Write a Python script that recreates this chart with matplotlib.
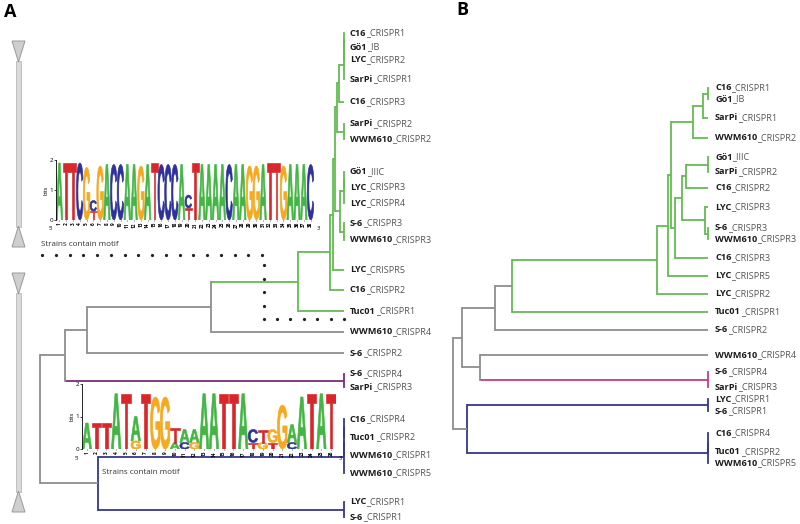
import numpy as np
import matplotlib
matplotlib.use('Agg')
import matplotlib.pyplot as plt
from matplotlib.textpath import TextPath
from matplotlib.patches import PathPatch, Polygon, Rectangle
from matplotlib.font_manager import FontProperties
from matplotlib.transforms import Affine2D

GREEN = '#63bb52'
GRAY = '#8e8e8e'
PURPLE = '#7b2b7a'
PINK = '#c33c83'
BLUE = '#35378f'
LOGO_COL = {'A': '#43b543', 'T': '#d8262a', 'G': '#f6a91f', 'C': '#2e3199'}

# ---- panel A leaves (strain, suffix, row) top to bottom
a_strain = ['C16', 'Gö1', 'LYC', 'SarPi', 'C16', 'SarPi', 'WWM610', 'Gö1', 'LYC', 'LYC',
            'S-6', 'WWM610', 'LYC', 'C16', 'Tuc01', 'WWM610', 'S-6', 'S-6', 'SarPi',
            'C16', 'Tuc01', 'WWM610', 'WWM610', 'LYC', 'S-6']
a_suffix = ['_CRISPR1', '_IB', '_CRISPR2', '_CRISPR1', '_CRISPR3', '_CRISPR2', '_CRISPR2',
            '_IIIC', '_CRISPR3', '_CRISPR4', '_CRISPR3', '_CRISPR3', '_CRISPR5', '_CRISPR2',
            '_CRISPR1', '_CRISPR4', '_CRISPR2', '_CRISPR4', '_CRISPR3', '_CRISPR4',
            '_CRISPR2', '_CRISPR1', '_CRISPR5', '_CRISPR1', '_CRISPR1']
a_row = [33, 47, 60, 79, 102, 124, 139, 172, 187, 203, 223, 240, 270, 290, 311, 332,
         353, 374, 387, 419, 437, 455, 473, 502, 517]

# ---- panel B leaves
b_strain = ['C16', 'Gö1', 'SarPi', 'WWM610', 'Gö1', 'SarPi', 'C16', 'LYC', 'S-6', 'WWM610',
            'C16', 'LYC', 'LYC', 'Tuc01', 'S-6', 'WWM610', 'S-6', 'SarPi', 'LYC', 'S-6',
            'C16', 'Tuc01', 'WWM610']
b_suffix = ['_CRISPR1', '_IB', '_CRISPR1', '_CRISPR2', '_IIIC', '_CRISPR2', '_CRISPR2',
            '_CRISPR3', '_CRISPR3', '_CRISPR3', '_CRISPR3', '_CRISPR5', '_CRISPR2', '_CRISPR1',
            '_CRISPR2', '_CRISPR4', '_CRISPR4', '_CRISPR3', '_CRISPR1', '_CRISPR1', '_CRISPR4',
            '_CRISPR2', '_CRISPR5']
b_row = [88, 99, 118, 138, 157, 172, 188, 207, 228, 239, 258, 276, 294, 312, 330, 355,
         372, 387, 399, 411, 433, 452, 463]


def N(depth, kids, c=None, stem=None):
    return {'x': depth, 'kids': kids, 'c': c, 'stem': stem}


# tree A, node depths on the drawing's distance scale
tipA = 344
ga = N(344, [N(344, [N(344, [0, 1]), 2]), 3])
gb = N(339, [ga, 4])
gc = N(344, [5, 6])
gd = N(337, [gb, gc])
ge = N(344, [N(344, [7, 8]), 9])
gf = N(344, [10, 11])
gg = N(340, [ge, gf])
gh = N(335, [gd, gg])
gi = N(333, [gh, 12])
gj = N(330, [gi, 13])
greenA = N(298, [gj, 14], GREEN)
n211 = N(211, [greenA, 15], GRAY)
n87 = N(87, [n211, 16], GRAY)
purpA = N(344, [17, 18], PURPLE)
n65 = N(65, [n87, purpA], GRAY)
blueA1 = N(344, [N(344, [N(344, [19, 20]), 21]), 22])
blueA2 = N(344, [23, 24])
blueA = N(98, [blueA1, blueA2], BLUE, stem=GRAY)
treeA = N(40, [n65, blueA], GRAY)

# tree B
tipB = 708
na = N(708, [0, 1])
nb = N(703, [na, 2])
nc = N(693, [nb, 3])
nd = N(708, [4, 5])
ne = N(686, [nd, 6])
nf = N(708, [8, 9])
ng = N(705, [7, nf])
ni = N(682, [ne, ng])
nj = N(675, [ni, 10])
nk = N(671, [nc, nj])
nl = N(668, [nk, 11])
nm = N(657, [nl, 12])
greenB = N(512, [nm, 13], GREEN, stem=GRAY)
n495 = N(495, [greenB, 14], GRAY)
pinkB = N(708, [16, 17], PINK)
n480 = N(480, [15, pinkB], GRAY)
n462 = N(462, [n495, n480], GRAY)
blueB1 = N(708, [N(708, [20, 21]), 22])
blueB2 = N(708, [18, 19])
blueB = N(467, [blueB2, blueB1], BLUE, stem=GRAY)
treeB = N(453, [n462, blueB], GRAY)

# sequence logos: main letter and its height in bits, plus small letters underneath
logo1_seq = 'ATTCGCGACCAAGATCCCACTAAAACAAGGATTGAAAC'
logo1_h = [1.9, 1.9, 1.9, 1.9, 1.75, 0.35, 1.8, 1.85, 1.85, 1.85, 1.85, 1.85, 1.8, 1.85,
           1.9, 1.85, 1.85, 1.85, 1.85, 0.43, 1.9, 1.85, 1.85, 1.85, 1.85, 1.85, 1.85,
           1.85, 1.8, 1.8, 1.85, 1.9, 1.9, 1.8, 1.85, 1.85, 1.85, 1.85]
logo1_sub = {6: ('T', 0.3), 20: ('T', 0.4)}

logo2_seq = 'ATTATATGGTAAAATTACTGGAATAT'
logo2_h = [0.8, 0.8, 0.8, 1.7, 1.7, 0.75, 1.7, 1.6, 1.6, 0.45, 0.4, 0.4, 1.7, 1.7, 1.7,
           1.7, 1.7, 0.4, 0.4, 0.4, 1.35, 0.55, 1.6, 1.7, 1.7, 1.7]
logo2_sub = {6: ('G', 0.25), 10: ('A', 0.2), 11: ('C', 0.2), 12: ('G', 0.2),
             18: ('T', 0.2), 19: ('G', 0.2), 20: ('T', 0.2), 22: ('C', 0.2)}

plt.rcParams['font.family'] = ['Open Sans', 'DejaVu Sans']
fig = plt.figure(figsize=(8, 5.24), dpi=100)
fig.patch.set_facecolor('white')
ax = fig.add_axes([0, 0, 1, 1])
ax.set_xlim(0, 800)
ax.set_ylim(524, 0)
ax.axis('off')

LW = 1.3


def draw(node, rows, tip, color, ax):
    col = node['c'] or color
    ys = []
    for k in node['kids']:
        if isinstance(k, dict):
            ky = draw(k, rows, tip, col, ax)
            stem = k['stem'] or k['c'] or col
            ax.plot([node['x'], k['x']], [ky, ky], color=stem, lw=LW, solid_capstyle='butt')
        else:
            ky = rows[k]
            ax.plot([node['x'], tip], [ky, ky], color=col, lw=LW, solid_capstyle='butt')
        ys.append(ky)
    ax.plot([node['x'], node['x']], [min(ys), max(ys)], color=col, lw=LW,
            solid_capstyle='projecting')
    return (min(ys) + max(ys)) / 2


draw(treeA, a_row, tipA, GRAY, ax)
draw(treeB, b_row, tipB, GRAY, ax)


def labels(strains, suffixes, rows, x0):
    for s, suf, y in zip(strains, suffixes, rows):
        t = ax.text(x0, y, s, fontsize=6.6, fontweight='bold', color='#1c1c1c',
                    va='center', ha='left')
        ax.annotate(suf, xy=(1, 0), xycoords=t, fontsize=6.6, color='#555555',
                    va='bottom', ha='left')


labels(a_strain, a_suffix, a_row, tipA + 6)
labels(b_strain, b_suffix, b_row, tipB + 7)

ax.text(4, 12, 'A', fontsize=13, fontweight='bold', va='center', ha='left')
ax.text(456, 10, 'B', fontsize=13, fontweight='bold', va='center', ha='left')

# gray range bars with triangles
for top, bot in [(41, 247), (273, 512)]:
    ax.add_patch(Rectangle((16.3, top + 20), 4.4, bot - top - 40, fc='#dadada',
                           ec='#b8b8b8', lw=0.6))
    ax.add_patch(Polygon([(12, top), (25, top), (18.5, top + 21)], fc='#cfcfcf',
                         ec='#9a9a9a', lw=0.7))
    ax.add_patch(Polygon([(18.5, bot - 21), (12, bot), (25, bot)], fc='#cfcfcf',
                         ec='#9a9a9a', lw=0.7))

# motif markers
ax.text(41, 245, 'Strains contain motif', fontsize=5.8, color='#333333', va='center')
ax.text(102, 472, 'Strains contain motif', fontsize=5.8, color='#333333', va='center')
dx = np.linspace(42, 262, 17)
ax.plot(dx, np.full_like(dx, 255), 'o', ms=1.3, color='#222222')
dy = np.linspace(265, 319, 5)
ax.plot(np.full_like(dy, 264), dy, 'o', ms=1.3, color='#222222')
dx2 = np.linspace(277, 344, 6)
ax.plot(dx2, np.full_like(dx2, 319), 'o', ms=1.3, color='#222222')

FP = FontProperties(family='Liberation Sans', weight='bold')


def letter(lax, ch, x, y0, h, w=0.98):
    tp = TextPath((0, 0), ch, size=1, prop=FP)
    bb = tp.get_extents()
    tr = Affine2D().translate(-bb.x0, -bb.y0).scale(w / bb.width, h / bb.height) \
        .translate(x - w / 2, y0)
    lax.add_patch(PathPatch(tr.transform_path(tp), fc=LOGO_COL[ch], ec=LOGO_COL[ch],
                            lw=0.45, joinstyle='miter'))


def logo(rect, seq, heights, subs):
    lax = fig.add_axes(rect)
    n = len(seq)
    for i, (ch, h) in enumerate(zip(seq, heights), start=1):
        base = 0
        if i in subs:
            sc, sh = subs[i]
            letter(lax, sc, i, 0, sh)
            base = sh
        letter(lax, ch, i, base, h)
    lax.set_xlim(0.5, n + 0.5)
    lax.set_ylim(0, 2)
    lax.set_facecolor('none')
    for sp in ['top', 'right', 'bottom']:
        lax.spines[sp].set_visible(False)
    lax.spines['left'].set_linewidth(0.6)
    lax.set_yticks([0, 1, 2])
    lax.tick_params(axis='y', labelsize=4.5, length=1.5, width=0.5, pad=0.5)
    lax.set_xticks(range(1, n + 1))
    lax.set_xticklabels([str(i) for i in range(1, n + 1)], rotation=90, fontsize=3.4,
                        fontweight='bold')
    lax.tick_params(axis='x', length=1, width=0.4, pad=0.5)
    lax.set_ylabel('bits', fontsize=4, labelpad=0.5)
    lax.text(-0.012, -0.17, "5'", transform=lax.transAxes, fontsize=4, ha='right')
    lax.text(1.01, -0.17, "3'", transform=lax.transAxes, fontsize=4, ha='left')
    return lax


H = 524.0
logo([56 / 800, 1 - 220 / H, 258 / 800, 60 / H], logo1_seq, logo1_h, logo1_sub)
logo([82 / 800, 1 - 449 / H, 254 / 800, 65 / H], logo2_seq, logo2_h, logo2_sub)

fig.savefig('out.png', dpi=100, facecolor='white')
